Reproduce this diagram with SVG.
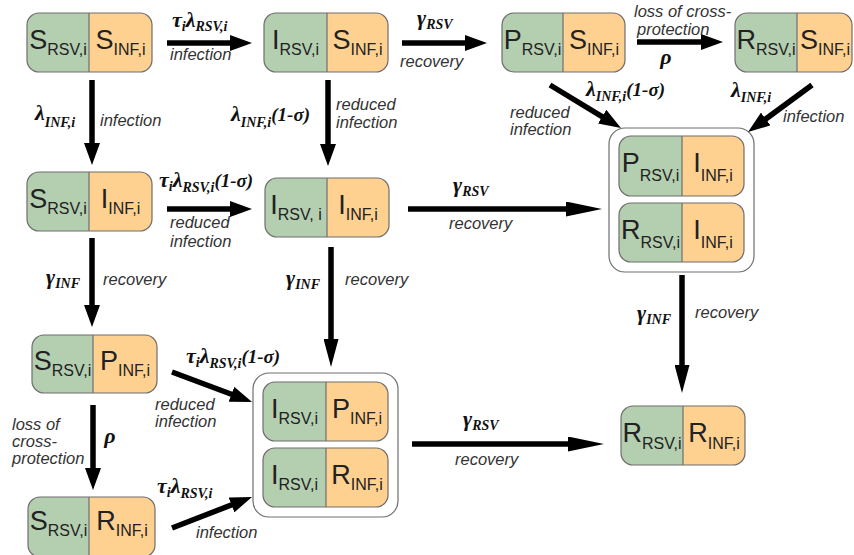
<svg xmlns="http://www.w3.org/2000/svg" width="854" height="555" viewBox="0 0 854 555">
<style>
.o{fill:#fed190}
.gr{fill:#b4ceb0}
.bd{fill:none;stroke:#6e6e6e;stroke-width:1.2}
.dv{stroke:#6e6e6e;stroke-width:1.2}
.grp{fill:#fff;stroke:#6e6e6e;stroke-width:1.2}
.nt{font-family:"Liberation Sans",Arial,sans-serif;font-size:27px;fill:#222;text-anchor:middle}
.ns{font-size:16px}
.lb{font-family:"Liberation Sans",Arial,sans-serif;font-style:italic;font-size:16.5px;fill:#333}
.gk{font-family:"Liberation Serif","Times New Roman",serif;font-style:italic;font-weight:bold;font-size:22px;fill:#111}
.gs{font-size:14px}
.gp{font-size:19px}
.ar{stroke:#000;stroke-width:5.5;fill:none}
</style>
<defs>
<marker id="ah" viewBox="0 0 22 16" markerWidth="22" markerHeight="16" refX="10" refY="8" orient="auto" markerUnits="userSpaceOnUse"><path d="M0,0 L22,8 L0,16 Z" fill="#000"/></marker>
<marker id="ahm" viewBox="0 0 28 15" markerWidth="28" markerHeight="15" refX="12" refY="7.5" orient="auto" markerUnits="userSpaceOnUse"><path d="M0,0 L28,7.5 L0,15 Z" fill="#000"/></marker>
<marker id="ahl" viewBox="0 0 36 15" markerWidth="36" markerHeight="15" refX="16" refY="7.5" orient="auto" markerUnits="userSpaceOnUse"><path d="M0,0 L36,7.5 L0,15 Z" fill="#000"/></marker>
</defs>

<g id="nodeA">
<rect class="o" x="27" y="13" width="125" height="59" rx="12"/>
<path class="gr" d="M39,13 H89 V72 H39 A12 12 0 0 1 27,60 V25 A12 12 0 0 1 39,13 Z"/>
<rect class="bd" x="27" y="13" width="125" height="59" rx="12"/>
<line class="dv" x1="89" y1="13" x2="89" y2="72"/>
<text class="nt" x="58" y="49">S<tspan class="ns" dy="6">RSV,i</tspan></text>
<text class="nt" x="120.5" y="49">S<tspan class="ns" dy="6">INF,i</tspan></text>
</g>

<g id="nodeB">
<rect class="o" x="264" y="13" width="124" height="59" rx="12"/>
<path class="gr" d="M276,13 H327 V72 H276 A12 12 0 0 1 264,60 V25 A12 12 0 0 1 276,13 Z"/>
<rect class="bd" x="264" y="13" width="124" height="59" rx="12"/>
<line class="dv" x1="327" y1="13" x2="327" y2="72"/>
<text class="nt" x="295.5" y="49">I<tspan class="ns" dy="6">RSV,i</tspan></text>
<text class="nt" x="357.5" y="49">S<tspan class="ns" dy="6">INF,i</tspan></text>
</g>

<g id="nodeC">
<rect class="o" x="502" y="13" width="123" height="59" rx="12"/>
<path class="gr" d="M514,13 H563 V72 H514 A12 12 0 0 1 502,60 V25 A12 12 0 0 1 514,13 Z"/>
<rect class="bd" x="502" y="13" width="123" height="59" rx="12"/>
<line class="dv" x1="563" y1="13" x2="563" y2="72"/>
<text class="nt" x="532.5" y="49">P<tspan class="ns" dy="6">RSV,i</tspan></text>
<text class="nt" x="594" y="49">S<tspan class="ns" dy="6">INF,i</tspan></text>
</g>

<g id="nodeD">
<rect class="o" x="735" y="13" width="117" height="59" rx="12"/>
<path class="gr" d="M747,13 H797 V72 H747 A12 12 0 0 1 735,60 V25 A12 12 0 0 1 747,13 Z"/>
<rect class="bd" x="735" y="13" width="117" height="59" rx="12"/>
<line class="dv" x1="797" y1="13" x2="797" y2="72"/>
<text class="nt" x="766" y="49">R<tspan class="ns" dy="6">RSV,i</tspan></text>
<text class="nt" x="825" y="49">S<tspan class="ns" dy="6">INF,i</tspan></text>
</g>

<g id="nodeE">
<rect class="o" x="27" y="172" width="125" height="59" rx="12"/>
<path class="gr" d="M39,172 H89 V231 H39 A12 12 0 0 1 27,219 V184 A12 12 0 0 1 39,172 Z"/>
<rect class="bd" x="27" y="172" width="125" height="59" rx="12"/>
<line class="dv" x1="89" y1="172" x2="89" y2="231"/>
<text class="nt" x="58" y="208">S<tspan class="ns" dy="6">RSV,i</tspan></text>
<text class="nt" x="120.5" y="208">I<tspan class="ns" dy="6">INF,i</tspan></text>
</g>

<g id="nodeF">
<rect class="o" x="265" y="178" width="124" height="59" rx="12"/>
<path class="gr" d="M277,178 H327 V237 H277 A12 12 0 0 1 265,225 V190 A12 12 0 0 1 277,178 Z"/>
<rect class="bd" x="265" y="178" width="124" height="59" rx="12"/>
<line class="dv" x1="327" y1="178" x2="327" y2="237"/>
<text class="nt" x="296" y="214">I<tspan class="ns" dy="6">RSV, i</tspan></text>
<text class="nt" x="358" y="214">I<tspan class="ns" dy="6">INF,i</tspan></text>
</g>

<g id="groupG">
<rect class="grp" x="609" y="128" width="145" height="144" rx="16"/>
<g id="nodeG1">
<rect class="o" x="619" y="136" width="125" height="60" rx="12"/>
<path class="gr" d="M631,136 H682 V196 H631 A12 12 0 0 1 619,184 V148 A12 12 0 0 1 631,136 Z"/>
<rect class="bd" x="619" y="136" width="125" height="60" rx="12"/>
<line class="dv" x1="682" y1="136" x2="682" y2="196"/>
<text class="nt" x="650.5" y="172">P<tspan class="ns" dy="9">RSV,i</tspan></text>
<text class="nt" x="713" y="172">I<tspan class="ns" dy="9">INF,i</tspan></text>
</g>
<g id="nodeG2">
<rect class="o" x="619" y="203" width="125" height="59" rx="12"/>
<path class="gr" d="M631,203 H682 V262 H631 A12 12 0 0 1 619,250 V215 A12 12 0 0 1 631,203 Z"/>
<rect class="bd" x="619" y="203" width="125" height="59" rx="12"/>
<line class="dv" x1="682" y1="203" x2="682" y2="262"/>
<text class="nt" x="650.5" y="239">R<tspan class="ns" dy="9">RSV,i</tspan></text>
<text class="nt" x="713" y="239">I<tspan class="ns" dy="9">INF,i</tspan></text>
</g>
</g>

<g id="nodeH">
<rect class="o" x="32" y="335" width="125" height="58" rx="12"/>
<path class="gr" d="M44,335 H93 V393 H44 A12 12 0 0 1 32,381 V347 A12 12 0 0 1 44,335 Z"/>
<rect class="bd" x="32" y="335" width="125" height="58" rx="12"/>
<line class="dv" x1="93" y1="335" x2="93" y2="393"/>
<text class="nt" x="62.5" y="370">S<tspan class="ns" dy="6">RSV,i</tspan></text>
<text class="nt" x="125" y="370">P<tspan class="ns" dy="6">INF,i</tspan></text>
</g>

<g id="nodeI">
<rect class="o" x="28" y="497" width="127" height="60" rx="12"/>
<path class="gr" d="M40,497 H89 V557 H40 A12 12 0 0 1 28,545 V509 A12 12 0 0 1 40,497 Z"/>
<rect class="bd" x="28" y="497" width="127" height="60" rx="12"/>
<line class="dv" x1="89" y1="497" x2="89" y2="557"/>
<text class="nt" x="58.5" y="530">S<tspan class="ns" dy="6">RSV,i</tspan></text>
<text class="nt" x="122" y="530">R<tspan class="ns" dy="6">INF,i</tspan></text>
</g>

<g id="groupJ">
<rect class="grp" x="253" y="373" width="145" height="144" rx="16"/>
<g id="nodeJ1">
<rect class="o" x="263" y="382" width="125" height="59" rx="12"/>
<path class="gr" d="M275,382 H326 V441 H275 A12 12 0 0 1 263,429 V394 A12 12 0 0 1 275,382 Z"/>
<rect class="bd" x="263" y="382" width="125" height="59" rx="12"/>
<line class="dv" x1="326" y1="382" x2="326" y2="441"/>
<text class="nt" x="294.5" y="418">I<tspan class="ns" dy="6">RSV,i</tspan></text>
<text class="nt" x="357" y="418">P<tspan class="ns" dy="6">INF,i</tspan></text>
</g>
<g id="nodeJ2">
<rect class="o" x="263" y="448" width="125" height="59" rx="12"/>
<path class="gr" d="M275,448 H326 V507 H275 A12 12 0 0 1 263,495 V460 A12 12 0 0 1 275,448 Z"/>
<rect class="bd" x="263" y="448" width="125" height="59" rx="12"/>
<line class="dv" x1="326" y1="448" x2="326" y2="507"/>
<text class="nt" x="294.5" y="484">I<tspan class="ns" dy="6">RSV,i</tspan></text>
<text class="nt" x="357" y="484">R<tspan class="ns" dy="6">INF,i</tspan></text>
</g>
</g>

<g id="nodeK">
<rect class="o" x="621" y="406" width="124" height="59" rx="12"/>
<path class="gr" d="M633,406 H683 V465 H633 A12 12 0 0 1 621,453 V418 A12 12 0 0 1 633,406 Z"/>
<rect class="bd" x="621" y="406" width="124" height="59" rx="12"/>
<line class="dv" x1="683" y1="406" x2="683" y2="465"/>
<text class="nt" x="652" y="442">R<tspan class="ns" dy="7">RSV,i</tspan></text>
<text class="nt" x="714" y="442">R<tspan class="ns" dy="7">INF,i</tspan></text>
</g>

<g id="connectors">
<line class="ar" x1="167" y1="43" x2="240" y2="43" marker-end="url(#ah)"/>
<line class="ar" x1="402" y1="43" x2="475" y2="43" marker-end="url(#ah)"/>
<line class="ar" x1="637" y1="42" x2="711" y2="42" marker-end="url(#ah)"/>
<line class="ar" x1="92" y1="80" x2="92" y2="153" marker-end="url(#ah)"/>
<line class="ar" x1="328" y1="80" x2="328" y2="154" marker-end="url(#ah)"/>
<line class="ar" x1="550" y1="85" x2="610.7" y2="121.8" marker-end="url(#ah)"/>
<line class="ar" x1="812" y1="85" x2="757.7" y2="124.9" marker-end="url(#ah)"/>
<line class="ar" x1="167" y1="209" x2="240" y2="209" marker-end="url(#ah)"/>
<line class="ar" x1="408" y1="209" x2="582" y2="209" marker-end="url(#ahl)"/>
<line class="ar" x1="92" y1="238" x2="92" y2="315" marker-end="url(#ah)"/>
<line class="ar" x1="331" y1="247" x2="331" y2="351" marker-end="url(#ahm)"/>
<line class="ar" x1="682" y1="275" x2="682" y2="377" marker-end="url(#ahm)"/>
<line class="ar" x1="93" y1="405" x2="93" y2="478" marker-end="url(#ah)"/>
<line class="ar" x1="172" y1="372" x2="240.8" y2="397.8" marker-end="url(#ah)"/>
<line class="ar" x1="172" y1="528" x2="240.8" y2="501.3" marker-end="url(#ah)"/>
<line class="ar" x1="412" y1="444" x2="584" y2="444" marker-end="url(#ahl)"/>

<text class="gk" x="172" y="27">τ<tspan class="gs" dy="4">i</tspan><tspan dy="-4">λ</tspan><tspan class="gs" dy="4">RSV,i</tspan></text>
<text class="lb" x="170" y="60">infection</text>

<text class="gk" x="417" y="25">γ<tspan class="gs" dy="4">RSV</tspan></text>
<text class="lb" x="400" y="67">recovery</text>

<text class="lb" x="634" y="17">loss of cross-</text>
<text class="lb" x="637" y="35">protection</text>
<text class="gk" x="666" y="64" text-anchor="middle">ρ</text>

<text class="gk" x="35" y="120">λ<tspan class="gs" dy="7">INF,i</tspan></text>
<text class="lb" x="100" y="126">infection</text>

<text class="gk" x="231" y="121">λ<tspan class="gs" dy="6">INF,i</tspan><tspan class="gp" dy="-6">(1-σ)</tspan></text>
<text class="lb" x="336" y="110">reduced</text>
<text class="lb" x="336" y="128">infection</text>

<text class="gk" x="586" y="96">λ<tspan class="gs" dy="5">INF,i</tspan><tspan class="gp" dy="-5">(1-σ)</tspan></text>
<text class="lb" x="510" y="118">reduced</text>
<text class="lb" x="510" y="135">infection</text>

<text class="gk" x="731" y="97">λ<tspan class="gs" dy="5">INF,i</tspan></text>
<text class="lb" x="783" y="122">infection</text>

<text class="gk" x="159" y="187">τ<tspan class="gs" dy="4">i</tspan><tspan dy="-4">λ</tspan><tspan class="gs" dy="5">RSV,i</tspan><tspan class="gp" dy="-5">(1-σ)</tspan></text>
<text class="lb" x="170" y="228">reduced</text>
<text class="lb" x="170" y="247">infection</text>

<text class="gk" x="453" y="192">γ<tspan class="gs" dy="4">RSV</tspan></text>
<text class="lb" x="449" y="229">recovery</text>

<text class="gk" x="46" y="284">γ<tspan class="gs" dy="4">INF</tspan></text>
<text class="lb" x="103" y="285">recovery</text>

<text class="gk" x="286" y="285">γ<tspan class="gs" dy="4">INF</tspan></text>
<text class="lb" x="345" y="285">recovery</text>

<text class="gk" x="637" y="320">γ<tspan class="gs" dy="4">INF</tspan></text>
<text class="lb" x="695" y="318">recovery</text>

<text class="lb" x="12" y="430">loss of</text>
<text class="lb" x="12" y="447">cross-</text>
<text class="lb" x="12" y="464">protection</text>
<text class="gk" x="110" y="443" text-anchor="middle">ρ</text>

<text class="gk" x="186" y="363">τ<tspan class="gs" dy="4">i</tspan><tspan dy="-4">λ</tspan><tspan class="gs" dy="5">RSV,i</tspan><tspan class="gp" dy="-5">(1-σ)</tspan></text>
<text class="lb" x="155" y="410">reduced</text>
<text class="lb" x="155" y="427">infection</text>

<text class="gk" x="157" y="493">τ<tspan class="gs" dy="4">i</tspan><tspan dy="-4">λ</tspan><tspan class="gs" dy="5">RSV,i</tspan></text>
<text class="lb" x="196" y="538">infection</text>

<text class="gk" x="463" y="426">γ<tspan class="gs" dy="4">RSV</tspan></text>
<text class="lb" x="455" y="465">recovery</text>
</g>
</svg>
